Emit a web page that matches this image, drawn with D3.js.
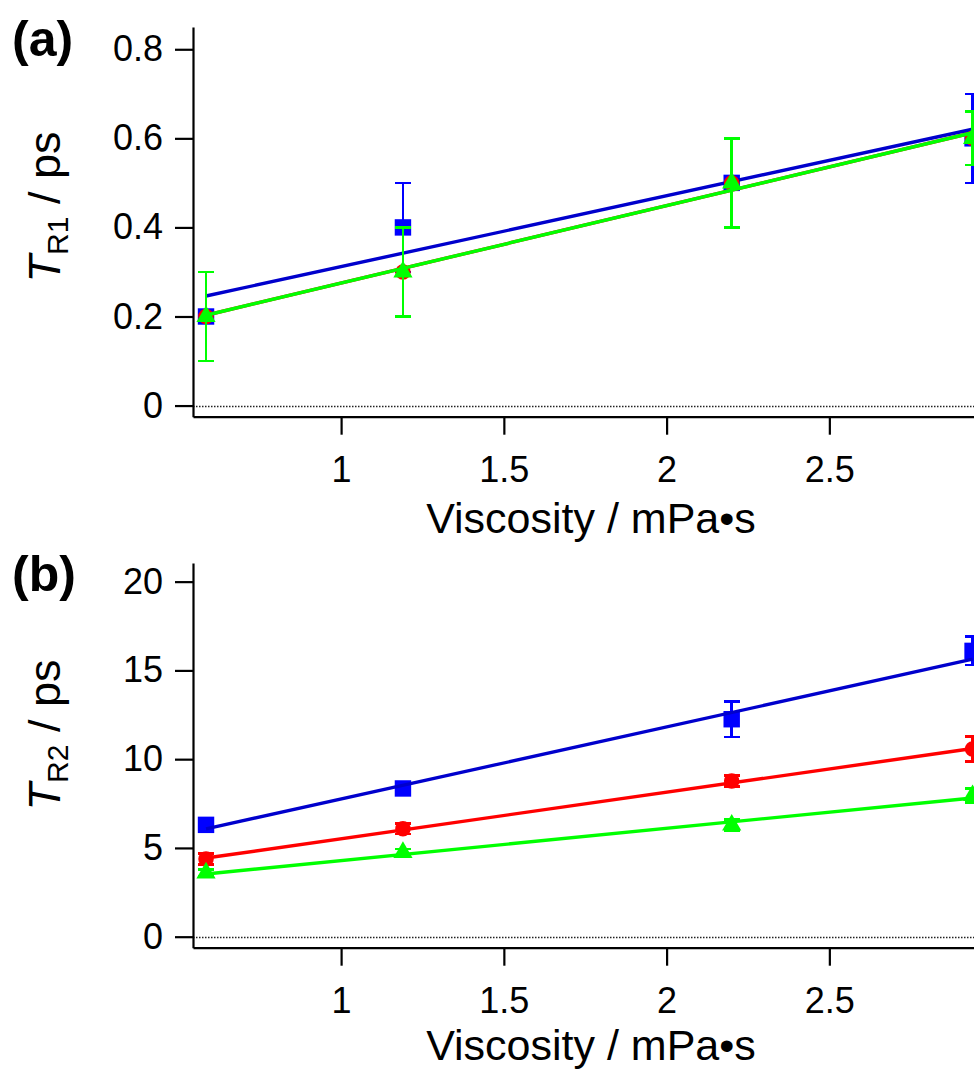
<!DOCTYPE html>
<html><head><meta charset="utf-8">
<script src="https://cdn.jsdelivr.net/npm/d3@7"></script>
<style>
html,body{margin:0;padding:0;background:#fff;}
svg{display:block;font-family:"Liberation Sans",Arial,sans-serif;}
</style></head>
<body>
<svg id="chart" width="974" height="1071"></svg>
<script>
// ---- data ----
const viscosity = [0.585, 1.19, 2.2, 2.94];
const xTicks = [1, 1.5, 2, 2.5];

// panel (a): T_R1 / ps
const aTicks = [0, 0.2, 0.4, 0.6, 0.8];
const aBlue = [0.2, 0.4, 0.5, 0.6];
const aBlueErr = [0.1, 0.1, 0.1, 0.1];
const aRed = [0.2, 0.3, 0.5, 0.6];
const aRedErr = [0.1, 0.1, 0.1, 0.06];
const aGreen = [0.2, 0.3, 0.5, 0.6];
const aGreenErr = [0.1, 0.1, 0.1, 0.06];
// linear fits [intercept, slope]
const aFitBlue = [0.153, 0.159];
const aFitRed = [0.101, 0.174];
const aFitGreen = [0.101, 0.174];

// panel (b): T_R2 / ps
const bTicks = [0, 5, 10, 15, 20];
const bBlue = [6.3, 8.35, 12.25, 16.1];
const bBlueErr = [0.25, 0.25, 1.0, 0.8];
const bRed = [4.38, 6.08, 8.77, 10.57];
const bRedErr = [0.3, 0.3, 0.3, 0.7];
const bGreen = [3.59, 4.75, 6.29, 7.95];
const bGreenErr = [0.2, 0.2, 0.3, 0.4];
const bFitBlue = [3.695, 4.06];
const bFitRed = [2.897, 2.62];
const bFitGreen = [2.465, 1.82];

// ---- drawing ----
const svg = d3.select("#chart");
svg.append("rect").attr("width",974).attr("height",1071).attr("fill","#fff");

const x = d3.scaleLinear().domain([0.545, 3.0]).range([193, 193 + 325.5*(3.0-0.545)]);

const colors = {blue:"#0000ff", red:"#ff0000", green:"#00ff00"};
const lineColors = {blue:"#0000cc", red:"#ff0000", green:"#00ff00"};

function panel(opts){
  const g = svg.append("g");
  const y = d3.scaleLinear().domain(opts.yDomain).range(opts.yRange);
  const bottom = opts.yRange[0];

  // zero dotted line
  g.append("line").attr("x1", x.range()[0]).attr("x2", 974)
    .attr("y1", Math.round(y(0))+0.5).attr("y2", Math.round(y(0))+0.5)
    .attr("stroke","#222").attr("stroke-width",1.5).attr("stroke-dasharray","1.5,1.5");

  // axes
  const ya = g.append("g").attr("transform",`translate(${x.range()[0]},0)`)
    .call(d3.axisLeft(y).tickValues(opts.yTicks).tickSize(18).tickSizeOuter(0).tickPadding(12)
      .tickFormat(opts.yFmt));
  const xa = g.append("g").attr("transform",`translate(0,${bottom})`)
    .call(d3.axisBottom(x).tickValues(xTicks).tickSize(18).tickSizeOuter(0).tickPadding(22)
      .tickFormat(d => String(d)));
  [ya, xa].forEach(a => {
    a.selectAll("path,line").attr("stroke","#000").attr("stroke-width",2.2);
    a.selectAll("text").attr("fill","#000").attr("font-size",36)
      .attr("font-family","'Liberation Sans',Arial,sans-serif");
  });

  // series
  const series = [
    {key:"blue", vals:opts.blue, err:opts.blueErr, fit:opts.fitBlue, shape:"square"},
    {key:"red", vals:opts.red, err:opts.redErr, fit:opts.fitRed, shape:"circle"},
    {key:"green", vals:opts.green, err:opts.greenErr, fit:opts.fitGreen, shape:"triangle"}
  ];
  series.forEach(s => {
    const c = colors[s.key];
    const pts = viscosity.map((v,i) => ({x:v, y:s.vals[i], e:s.err[i]}));
    const eg = g.append("g").attr("stroke", c).attr("stroke-width",2.5).attr("shape-rendering","crispEdges");
    pts.forEach(p => {
      eg.append("line").attr("x1",x(p.x)).attr("x2",x(p.x)).attr("y1",y(p.y-p.e)).attr("y2",y(p.y+p.e));
      [p.y-p.e, p.y+p.e].forEach(v => {
        eg.append("line").attr("x1",x(p.x)-8).attr("x2",x(p.x)+8).attr("y1",y(v)).attr("y2",y(v));
      });
    });
    const sym = s.shape==="square" ? d3.symbol(d3.symbolSquare, 270)
              : s.shape==="circle" ? d3.symbol(d3.symbolCircle, 190)
              : d3.symbol(d3.symbolTriangle, 160);
    g.append("g").selectAll("path").data(pts).join("path")
      .attr("d", sym).attr("fill", c)
      .attr("transform", d => `translate(${x(d.x)},${y(d.y)})`);
    const x0 = viscosity[0], x1 = viscosity[viscosity.length-1];
    const line = d3.line().x(d => x(d[0])).y(d => y(d[1]));
    g.append("path").attr("d", line([[x0, s.fit[0]+s.fit[1]*x0],[x1, s.fit[0]+s.fit[1]*x1]]))
      .attr("fill","none").attr("stroke", lineColors[s.key]).attr("stroke-width",3.4);
  });

  // panel label
  g.append("text").attr("x",12).attr("y",opts.labelY).attr("font-size",50).attr("font-weight","bold")
    .attr("fill","#000").text(opts.label);

  // y title
  const yt = g.append("text").attr("transform",`translate(60,${opts.yTitleY}) rotate(-90)`)
    .attr("text-anchor","middle").attr("font-size",45).attr("fill","#000");
  yt.append("tspan").attr("font-style","italic").text("T");
  yt.append("tspan").attr("font-size",30).attr("dy",8).text(opts.sub);
  yt.append("tspan").attr("dy",-8).text(" / ps");

  // x title
  g.append("text").attr("x",591).attr("y",bottom+opts.xTitleOff).attr("text-anchor","middle")
    .attr("font-size",43).attr("fill","#000").text("Viscosity / mPa•s");
}

panel({
  yDomain:[-0.025, 0.85], yRange:[416.7, 27], yTicks:aTicks,
  yFmt: d => d===0 ? "0" : d3.format(".1f")(d),
  blue:aBlue, blueErr:aBlueErr, red:aRed, redErr:aRedErr, green:aGreen, greenErr:aGreenErr,
  fitBlue:aFitBlue, fitRed:aFitRed, fitGreen:aFitGreen,
  label:"(a)", labelY:56, sub:"R1", yTitleY:207, xTitleOff:116
});
panel({
  yDomain:[-0.62, 21.05], yRange:[947.7, 563], yTicks:bTicks,
  yFmt: d => String(d),
  blue:bBlue, blueErr:bBlueErr, red:bRed, redErr:bRedErr, green:bGreen, greenErr:bGreenErr,
  fitBlue:bFitBlue, fitRed:bFitRed, fitGreen:bFitGreen,
  label:"(b)", labelY:591, sub:"R2", yTitleY:735, xTitleOff:112
});
</script>
</body></html>
